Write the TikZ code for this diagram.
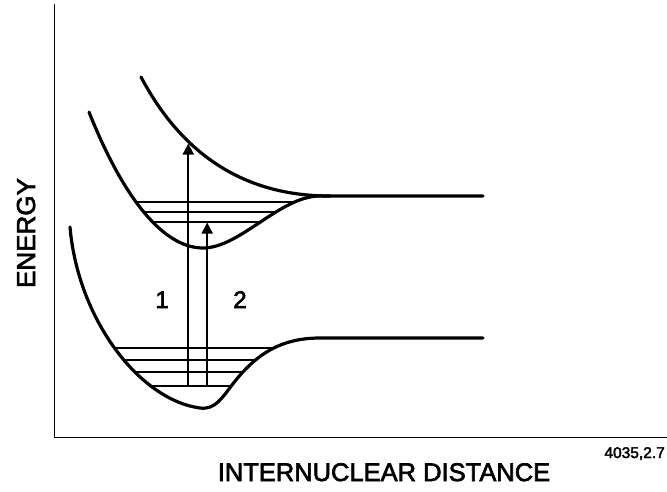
\documentclass[tikz,border=0pt]{standalone}
\usepackage{fontspec}
\setmainfont{Liberation Sans}
\newfontfamily\labfont[FakeBold=2.5]{Liberation Sans}
\usetikzlibrary{arrows.meta}
\begin{document}
\begin{tikzpicture}[x=1pt,y=-1pt,
  curve/.style={line width=3.2pt,line cap=round},
  level/.style={line width=1.6pt},
  axis/.style={line width=1.7pt},
  trans/.style={line width=1.9pt,-{Triangle[length=11pt,width=11pt]}},
  lbl/.style={inner sep=0pt,font=\labfont\fontsize{24}{24}\selectfont},
  axlbl/.style={inner sep=0pt,font=\labfont\fontsize{25.5}{25.5}\selectfont}]
\useasboundingbox (0,0) rectangle (667,491);
% axes
\coordinate (ytop) at (54.5,4);
\coordinate (orig) at (54.5,437.5);
\coordinate (xend) at (667,437.5);
\draw[axis] (ytop) -- (orig) -- (xend);
% ground state vibrational levels
\begin{scope}
\clip (70,227) .. controls (78,320) and (140,400) .. (200,408)
  .. controls (215,410) and (222,398) .. (232,385)
  .. controls (255,355) and (280,338) .. (320,338) -- (483,338)
  -- (483,150) -- (40,150) -- cycle;
\foreach \yy in {348,360,372,386} \draw[level] (90,\yy) -- (320,\yy);
\end{scope}
% excited state vibrational levels
\begin{scope}
\clip (89,112) .. controls (120,190) and (160,248) .. (203,248)
  .. controls (240,248) and (280,196) .. (320,196) -- (483,196)
  -- (483,40) -- (60,40) -- cycle;
\foreach \yy in {202,212,222} \draw[level] (100,\yy) -- (320,\yy);
\end{scope}
% potential curves
\draw[curve] (70,227) .. controls (78,320) and (140,400) .. (200,408)
  .. controls (215,410) and (222,398) .. (232,385)
  .. controls (255,355) and (280,338) .. (320,338) -- (483,338);
\draw[curve] (89,112) .. controls (120,190) and (160,248) .. (203,248)
  .. controls (240,248) and (280,196) .. (320,196) -- (483,196);
\draw[curve] (141,77) .. controls (185,160) and (250,196) .. (330,196);
% transitions
\coordinate (a1s) at (188.3,386);
\coordinate (a1e) at (188.3,143.5);
\coordinate (a2s) at (207.2,386);
\coordinate (a2e) at (207.2,222.5);
\draw[trans] (a1s) -- (a1e);
\draw[trans] (a2s) -- (a2e);
% labels
\node[lbl,anchor=base] (l1) at (162,308) {1};
\node[lbl,anchor=base] (l2) at (240,308) {2};
\node[axlbl,anchor=base,rotate=90,font=\labfont\fontsize{26}{26}\selectfont] (ylab) at (35,233) {ENERGY};
\node[axlbl,anchor=base] (xlab) at (384,481) {INTERNUCLEAR DISTANCE};
\node[inner sep=0pt,anchor=base east,font=\labfont\fontsize{15.5}{15.5}\selectfont] (code) at (665,458) {4035,2.7};
\end{tikzpicture}
\end{document}
